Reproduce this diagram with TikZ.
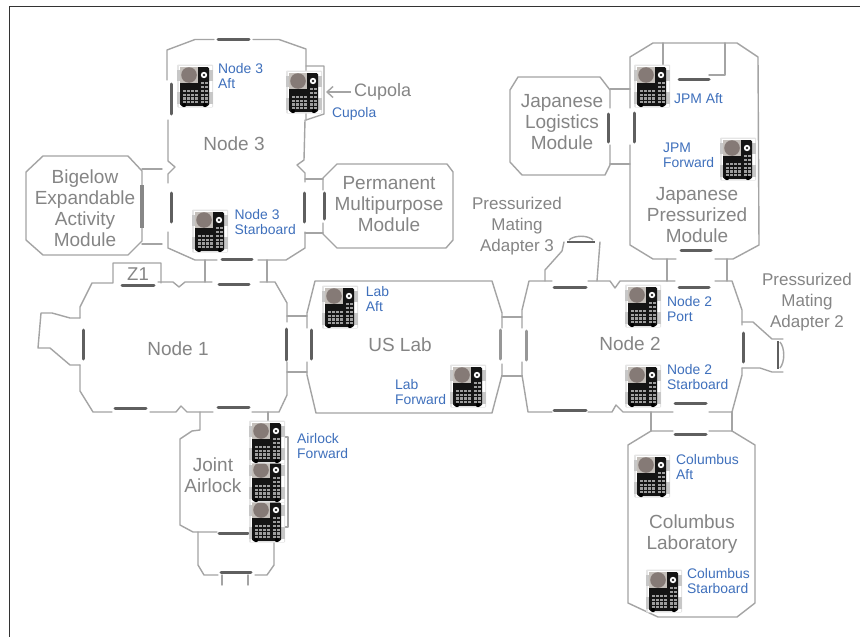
\documentclass[tikz,border=0pt]{standalone}
\usepackage{fontspec}
\setmainfont{Liberation Sans}
\usetikzlibrary{arrows.meta}
\definecolor{wall}{HTML}{A4A4A4}
\definecolor{bar}{HTML}{5F5F5F}
\definecolor{graytext}{HTML}{858585}
\definecolor{bluetext}{HTML}{3F70BC}
\definecolor{frameline}{HTML}{333333}
\definecolor{lensout}{HTML}{C4BFBA}
\definecolor{lensin}{HTML}{857A76}
\tikzset{
  wallline/.style={draw=wall,line width=1.4pt,line join=round,line cap=round},
  hatch/.style={draw=bar,line width=3pt,line cap=round},
  lighthatch/.style={draw=bar!65,line width=3pt,line cap=round},
  modtext/.style={text=graytext,font=\fontsize{19}{21}\selectfont,align=center,inner sep=0pt},
  pmatext/.style={text=graytext,font=\fontsize{17}{21}\selectfont,align=center,inner sep=0pt},
  camtext/.style={text=bluetext,font=\fontsize{13.9}{15}\selectfont,align=left,anchor=west,inner sep=0pt},
  camdev/.pic={
    \fill[black!10,rounded corners=1pt] (-18,-21.5) rectangle (18,21.5);
    \fill[white] (-16.5,-20.5) rectangle (16.5,20.5);
    \fill[black!22] (-18,-16) rectangle (-14,-5);
    \fill[black!22] (-18,6) rectangle (-14,18);
    \fill[black!22] (14,-16) rectangle (18,-5);
    \fill[black!22] (14,6) rectangle (18,18);
    \fill[black!92,rounded corners=1.5pt] (-15,-19) rectangle (14,20);
    \fill[lensout] (-15,-19) rectangle (3,-3);
    \fill[lensin] (-6,-11) circle (7.8);
    \fill[white] (9,-11) circle (3.2);
    \fill[black!85] (9,-11) circle (1.4);
    \foreach \yy in {4,7.6,11.2,14.8}{
      \foreach \xx in {-12,-8,-4,0}{\fill[black!38] (\xx,\yy) rectangle +(2.8,2.4);}
      \foreach \xx in {6,10}{\fill[black!38] (\xx,\yy) rectangle +(2.6,2.4);}
    }
    \foreach \xx in {6,10}{\fill[black!38] (\xx,-4) rectangle +(2.6,2);\fill[black!38] (\xx,0) rectangle +(2.6,2);}
    \fill[black] (-11,19) circle (2.2);
    \fill[black] (10,19) circle (2.2);
  }
}
\begin{document}
\begin{tikzpicture}[x=1pt,y=-1pt]
\useasboundingbox (0,0) rectangle (860,637);
\fill[white] (0,0) rectangle (860,637);
\draw[frameline,line width=1pt] (9,637) -- (9,6) -- (860,6);

% Node 3
\draw[wallline] (167,80) -- (167,50) -- (195,39.5) -- (214,39.5);
\draw[wallline] (253,39.5) -- (279,39.5) -- (306,49) -- (306,120);
\draw[wallline] (306,66) -- (324,66) -- (324,114) -- (306,120);
\draw[wallline] (305,120) -- (304,160) -- (297,165) -- (305,173) -- (305,182);
\draw[wallline] (305,232) -- (305,248) -- (286,260) -- (258,260);
\draw[wallline] (217,260) -- (195,260) -- (168,248) -- (168,232);
\draw[wallline] (168,183) -- (168,174) -- (175,167) -- (168,161) -- (168,120);
\draw[hatch] (218,39) -- (249,39);
\draw[hatch] (171,84) -- (171,114);
\draw[hatch] (171,193) -- (171,222);
\draw[hatch] (304,193) -- (304,222);
\draw[hatch] (222,259) -- (252,259);
% Bigelow
\draw[wallline] (43,156) -- (128,156) -- (142,171) -- (142,241) -- (128,255) -- (43,255) -- (26,240) -- (26,172) -- cycle;
\draw[draw=bar!75,line width=4.5pt] (142,185) -- (142,228);
\draw[wallline] (142,169) -- (162,169);
\draw[wallline] (142,244) -- (162,244);
% PMM
\draw[wallline] (323,190) -- (323,178) -- (337,164) -- (447,164) -- (453,172) -- (453,240) -- (446,248) -- (337,248) -- (323,234) -- (323,223);
\draw[hatch] (324,193) -- (324,219);
\draw[wallline] (305,179) -- (323,179);
\draw[wallline] (305,233) -- (323,233);
% Node 3 to Node 1
\draw[wallline] (205,260) -- (205,282);
\draw[wallline] (267,260) -- (267,282);
% Node 1
\draw[wallline] (80,318) -- (80,307) -- (92,283) -- (113,283) -- (113,263) -- (161,263) -- (161,283);
\draw[wallline] (158,282) -- (173,282) -- (179,287) -- (185,282) -- (212,282);
\draw[wallline] (260,282) -- (275,282) -- (287,303) -- (287,322);
\draw[wallline] (287,362) -- (287,395) -- (279,412) -- (252,412);
\draw[wallline] (213,412) -- (187,412) -- (181,406) -- (176,412) -- (150,412);
\draw[wallline] (112,412) -- (93,412) -- (80,391) -- (80,365);
\draw[wallline] (80,318) -- (70,318) -- (52,313) -- (41,313) -- (38,348) -- (50,348) -- (70,365) -- (80,365);
\draw[hatch] (122,285) -- (154,285);
\draw[hatch] (219,284) -- (249,284);
\draw[hatch] (286,329) -- (286,360);
\draw[hatch] (83.5,330) -- (83.5,359);
\draw[hatch] (115,408) -- (146,408);
\draw[hatch] (218,407) -- (249,407);
% Node 1 to Lab
\draw[wallline] (287,316) -- (307,316);
\draw[wallline] (287,372) -- (307,372);
% US Lab
\draw[wallline] (307,328) -- (307,313) -- (315,281) -- (492,281) -- (502,313) -- (502,328);
\draw[wallline] (502,364) -- (502,375) -- (492,413) -- (316,413) -- (307,375) -- (307,362);
\draw[hatch] (311,330) -- (311,359);
\draw[lighthatch] (500,330) -- (500,359);
% Lab to Node 2
\draw[wallline] (502,317) -- (522,317);
\draw[wallline] (502,376) -- (522,376);
% Node 2
\draw[wallline] (522,328) -- (522,310) -- (529,281) -- (552,281);
\draw[wallline] (588,281) -- (610,281) -- (615,288) -- (620,281) -- (675,281);
\draw[wallline] (715,281) -- (732,281) -- (742,310) -- (742,325);
\draw[wallline] (742,368) -- (742,375) -- (732,412) -- (709,412);
\draw[wallline] (673,412) -- (623,412) -- (616,405) -- (612,412) -- (588,412);
\draw[wallline] (552,412) -- (528,412) -- (522,375) -- (522,362);
\draw[lighthatch] (526,331) -- (526,360);
\draw[hatch] (554,287) -- (586,287);
\draw[hatch] (679,287) -- (709,287);
\draw[hatch] (743,333) -- (743,362);
\draw[hatch] (675,403) -- (706,403);
\draw[hatch] (554,410) -- (586,410);
% PMA 3
\draw[wallline] (545,281) -- (545,270) -- (562,251) -- (564,242);
\draw[wallline] (600,242) -- (597,281);
\draw[draw=bar,line width=2pt] (567,241.5) -- (595,241.5);
\draw[draw=wall,line width=1.4pt] (569,240) .. controls (574,235) and (588,235) .. (593,240);
% PMA 2
\draw[wallline] (742,322) -- (753,322) -- (772,339) -- (783,339);
\draw[wallline] (742,368) -- (760,368) -- (772,372) -- (783,372);
\draw[draw=bar,line width=1.8pt] (778,341) -- (778,369);
\draw[draw=wall,line width=1.4pt] (780,342) .. controls (785,348) and (785,362) .. (780,368);
% Columbus
\draw[wallline] (651,412) -- (651,431);
\draw[wallline] (732,412) -- (732,431);
\draw[wallline] (673,431) -- (651,431) -- (628,445) -- (628,603) -- (658,617) -- (737,617) -- (755,603) -- (755,445) -- (732,431) -- (709,431);
\draw[hatch] (675,434) -- (706,434);
% JPM
\draw[wallline] (630,108) -- (630,57) -- (653,43) -- (737,43) -- (758,57) -- (759,245) -- (733,259) -- (715,259);
\draw[wallline] (676,259) -- (653,259) -- (630,245) -- (630,145);
\draw[wallline] (663,43) -- (663,72);
\draw[wallline] (725,43) -- (725,75) -- (709,75);
\draw[hatch] (679,79) -- (709,79);
\draw[hatch] (634,113) -- (634,142);
\draw[hatch] (681,250) -- (711,250);
\draw[wallline] (667,259) -- (667,281);
\draw[wallline] (727,259) -- (727,281);
% JLM
\draw[wallline] (610,108) -- (610,90) -- (600,77) -- (518,77) -- (510,90) -- (510,162) -- (522,175) -- (605,175) -- (610,165) -- (610,145);
\draw[hatch] (608,114) -- (608,142);
\draw[wallline] (610,89) -- (630,89);
\draw[wallline] (610,164) -- (630,164);
% Joint Airlock
\draw[wallline] (200,412) -- (200,430) -- (192,431) -- (180,439) -- (180,525) -- (193,532) -- (217,532);
\draw[wallline] (268,412) -- (268,422);
\draw[wallline] (285,437) -- (288,437) -- (288,527) -- (285,527);
\draw[hatch] (219,533) -- (248,533);
\draw[wallline] (198,532) -- (198,565) -- (204,575) -- (218,575);
\draw[wallline] (255,575) -- (267,575) -- (274,565) -- (274,540);
\draw[hatch] (221,572) -- (251,572);
\draw[wallline] (222,575) -- (222,585);
\draw[wallline] (248,575) -- (248,585);

% Cupola pointer
\node[text=graytext,font=\fontsize{18}{21}\selectfont,anchor=west,inner sep=0pt] (cupolamod) at (354,92) {Cupola};
\coordinate (cupolatip) at (326,92);
\draw[draw=wall,line width=1.4pt,-{Straight Barb[length=6pt,width=11pt]}] (cupolamod.west) ++(-3,0) -- (cupolatip);

% Cameras
\pic at (195,86) {camdev};
\pic at (304,92) {camdev};
\pic at (210,231) {camdev};
\pic at (340,307) {camdev};
\pic at (468,386) {camdev};
\pic at (267,521) {camdev};
\pic at (267,481) {camdev};
\pic at (267,442) {camdev};
\pic at (652,86) {camdev};
\pic at (738,159) {camdev};
\pic at (643,306) {camdev};
\pic at (643,386) {camdev};
\pic at (652,476) {camdev};
\pic at (664,591) {camdev};

% Module labels
\node[modtext] (n3) at (234,144) {Node 3};
\node[modtext] (bg) at (85,208.5) {Bigelow\\Expandable\\Activity\\Module};
\node[modtext] (pm) at (389,204) {Permanent\\Multipurpose\\Module};
\node[modtext,font=\fontsize{18.5}{21}\selectfont] (z1) at (138,274) {Z1};
\node[modtext] (n1) at (178,349) {Node 1};
\node[modtext] (ul) at (400,345) {US Lab};
\node[modtext] (n2) at (630,344) {Node 2};
\node[modtext] (ja) at (213,475.5) {Joint\\Airlock};
\node[modtext] (cl) at (692,534.5) {Columbus\\Laboratory};
\node[modtext] (jp) at (697,215) {Japanese\\Pressurized\\Module};
\node[modtext] (jl) at (562,122) {Japanese\\Logistics\\Module};
\node[pmatext] (p3) at (517,226) {Pressurized\\Mating\\Adapter 3};
\node[pmatext] (p2) at (807,302) {Pressurized\\Mating\\Adapter 2};

% Camera labels
\node[camtext] (c1) at (218,76.5) {Node 3\\Aft};
\node[camtext] (c2) at (332,114) {Cupola};
\node[camtext] (c3) at (234.5,222.5) {Node 3\\Starboard};
\node[camtext] (c4) at (365.7,299.5) {Lab\\Aft};
\node[camtext] (c5) at (395,392.5) {Lab\\Forward};
\node[camtext] (c6) at (297,446.5) {Airlock\\Forward};
\node[camtext] (c7) at (674,99) {JPM Aft};
\node[camtext] (c8) at (663,155.5) {JPM\\Forward};
\node[camtext] (c9) at (667,309.5) {Node 2\\Port};
\node[camtext] (c10) at (667,377) {Node 2\\Starboard};
\node[camtext] (c11) at (676,467.5) {Columbus\\Aft};
\node[camtext] (c12) at (687,581.5) {Columbus\\Starboard};
\end{tikzpicture}
\end{document}
